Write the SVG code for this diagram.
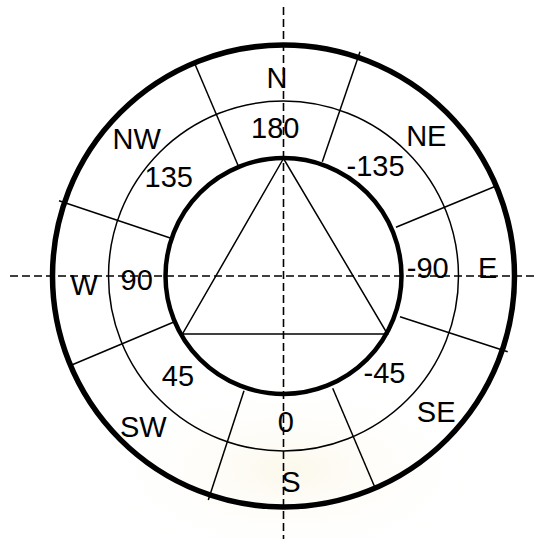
<svg xmlns="http://www.w3.org/2000/svg" width="537" height="539" viewBox="0 0 537 539">
<style>
.thick{fill:none;stroke:#000;stroke-width:5.5}
.mid{fill:none;stroke:#000;stroke-width:4.5}
.thin{fill:none;stroke:#000;stroke-width:1.5}
.axis{fill:none;stroke:#000;stroke-width:1.6;stroke-dasharray:8 4}
.lbl{font-family:"Liberation Sans",Arial,sans-serif;font-size:29px;fill:#000;text-anchor:middle}
</style>
<defs>
<radialGradient id="wm" cx="0.5" cy="0.5" r="0.5">
<stop offset="0" stop-color="#f8f2da" stop-opacity="0.55"/>
<stop offset="1" stop-color="#ffffff" stop-opacity="0"/>
</radialGradient>
</defs>
<rect width="537" height="539" fill="#fff"/>
<ellipse cx="290" cy="470" rx="200" ry="95" fill="url(#wm)"/>
<g id="rings">
<circle cx="283.5" cy="276" r="231" class="thick"/>
<circle cx="283.5" cy="276" r="175" class="thin"/>
<circle cx="283.5" cy="276" r="118" class="mid"/>
</g>
<g id="triangle">
<polygon points="283.5,158.5 182.5,334 387.5,334" class="thin"/>
</g>
<g id="connectors">
<line x1="238.3" y1="166" x2="195" y2="64.3" class="thin"/>
<line x1="171" y1="238.3" x2="59" y2="200.7" class="thin"/>
<line x1="322.3" y1="161.7" x2="360" y2="51.7" class="thin"/>
<line x1="396" y1="227.3" x2="494.3" y2="186.7" class="thin"/>
<line x1="400" y1="316.7" x2="507.7" y2="351.7" class="thin"/>
<line x1="332.7" y1="388.3" x2="374.3" y2="486" class="thin"/>
<line x1="244" y1="390.7" x2="208.3" y2="500" class="thin"/>
<line x1="173.3" y1="322.3" x2="71.7" y2="365" class="thin"/>
</g>
<g id="labels">
<text class="lbl" x="277" y="88.3">N</text>
<text class="lbl" x="426.3" y="145.7">NE</text>
<text class="lbl" x="487.7" y="278.3">E</text>
<text class="lbl" x="436.2" y="421.7">SE</text>
<text class="lbl" x="290.8" y="491.7">S</text>
<text class="lbl" x="143.3" y="436.7">SW</text>
<text class="lbl" x="84.2" y="295">W</text>
<text class="lbl" x="136.7" y="149">NW</text>
<text class="lbl" x="275.3" y="137.7">180</text>
<text class="lbl" x="375.5" y="176">-135</text>
<text class="lbl" x="427.8" y="278.3">-90</text>
<text class="lbl" x="384.5" y="383.3">-45</text>
<text class="lbl" x="285.8" y="431.7">0</text>
<text class="lbl" x="178" y="385.7">45</text>
<text class="lbl" x="136.7" y="290">90</text>
<text class="lbl" x="168.7" y="186.7">135</text>
</g>
<g id="axes">
<line x1="283.5" y1="7" x2="283.5" y2="539" class="axis"/>
<line x1="10" y1="276" x2="537" y2="276" class="axis"/>
</g>
</svg>
